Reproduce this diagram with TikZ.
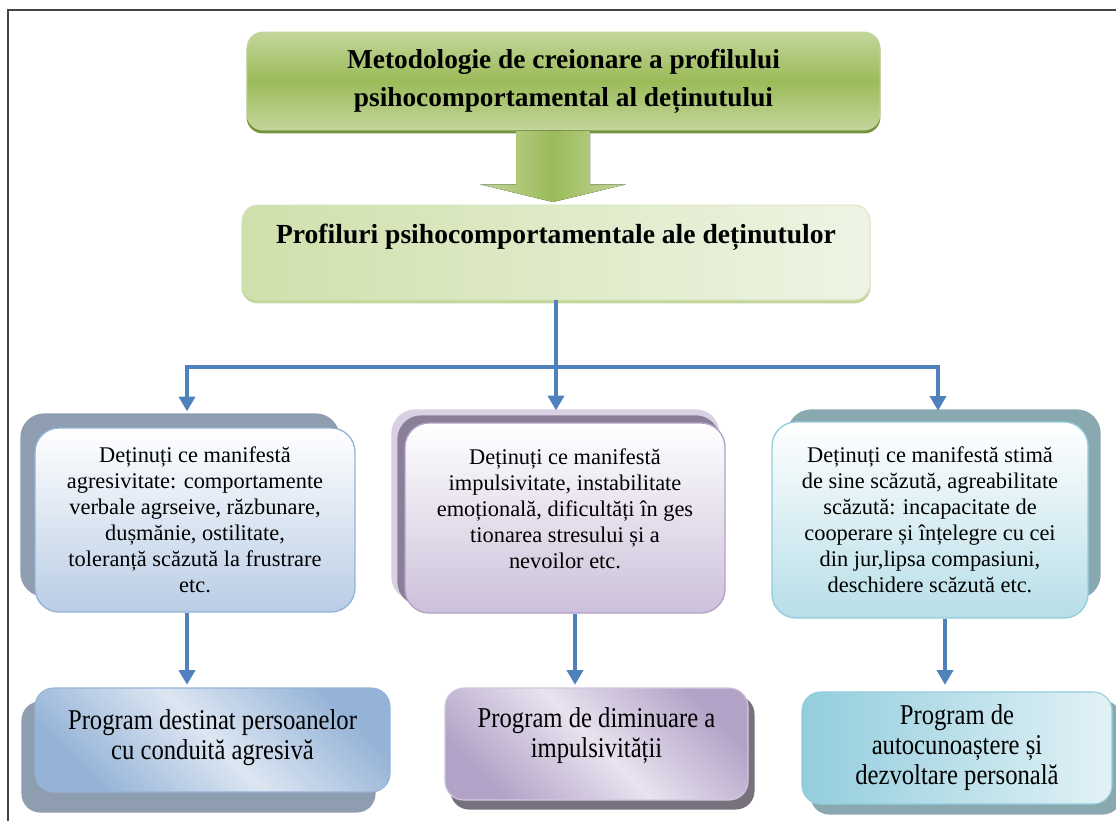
\documentclass[tikz,border=0pt]{standalone}
\usepackage{fontspec}
\setmainfont{Liberation Serif}
\newfontfamily\condfont{Liberation Serif}[FakeStretch=0.86]
\usetikzlibrary{arrows.meta,calc,backgrounds}
\definecolor{gLight}{HTML}{C3D69B}
\definecolor{gDark}{HTML}{9BBB59}
\definecolor{gShadow}{HTML}{77933C}
\definecolor{gPale}{HTML}{EEF4E4}
\definecolor{gMid}{HTML}{CFE0AB}
\definecolor{connBlue}{HTML}{4F81BD}
\definecolor{bBot}{HTML}{B9CDE5}
\definecolor{bBorder}{HTML}{95B3D7}
\definecolor{bShadow}{HTML}{8E9DB0}
\definecolor{bPale}{HTML}{DCE6F2}
\definecolor{pBot}{HTML}{CCC0DA}
\definecolor{pBorder}{HTML}{B3A2C7}
\definecolor{pShadowA}{HTML}{D9D0E3}
\definecolor{pShadowB}{HTML}{8A7F99}
\definecolor{pPale}{HTML}{E8E3EF}
\definecolor{pShadow3}{HTML}{76717C}
\definecolor{tBot}{HTML}{B7DEE8}
\definecolor{tBorder}{HTML}{93CDDD}
\definecolor{tShadow}{HTML}{8AA8B0}
\definecolor{tPale}{HTML}{E2F2F6}
\definecolor{frameGray}{HTML}{444444}
\begin{document}
\begin{tikzpicture}[x=0.75pt,y=-0.75pt,
  greenbox/.style={rounded corners=12pt, draw=gLight, line width=0.6pt, align=center,
     font=\fontsize{20.5}{28.5}\selectfont\bfseries},
  rowtwo/.style={rounded corners=18pt, line width=1pt, align=center,
     font=\fontsize{16.8}{19.5}\selectfont, inner sep=0pt},
  rowthree/.style={rounded corners=14pt, line width=0.8pt, align=center,
     font=\fontsize{21.5}{22.5}\condfont, inner sep=0pt},
  conn/.style={draw=connBlue, line width=3pt},
  arr/.style={conn, -{Triangle[width=12pt,length=11pt]}}
]
\useasboundingbox (0,0) rectangle (1116,821);
% frame
\draw[frameGray, line width=1.6pt] (8,821) -- (8,10) -- (1116,10);

% top box
\node[greenbox, top color=gLight, bottom color=gLight, middle color=gDark,
  minimum width=633*0.75pt, minimum height=98*0.75pt] (top) at (563.5,81)
  {Metodologie de creionare a profilului\\psihocomportamental al deținutului};
% second box
\node[greenbox, left color=gMid, right color=gPale, draw=gLight!70,
  minimum width=628*0.75pt, minimum height=95*0.75pt,
  font=\fontsize{20.7}{23}\selectfont\bfseries, text height=14pt, text depth=28pt] (prof) at (556,252.5)
  {Profiluri psihocomportamentale ale deținutulor};

% row 2
\node[rowtwo, top color=white, bottom color=bBot, draw=bBorder,
  minimum width=320*0.75pt, minimum height=184*0.75pt] (a1) at (195,520)
  {Deținuți ce manifestă\\agresivitate: comportamente\\verbale agrseive, răzbunare,\\dușmănie, ostilitate,\\toleranță scăzută la frustrare\\etc.};
\node[rowtwo, top color=white, bottom color=pBot, draw=pBorder,
  minimum width=320*0.75pt, minimum height=190*0.75pt] (a2) at (565,518)
  {Deținuți ce manifestă\\impulsivitate, instabilitate\\emoțională, dificultăți în ges\\tionarea stresului și a\\nevoilor etc.\\[-6pt]};
\node[rowtwo, top color=white, bottom color=tBot, draw=tBorder,
  minimum width=316*0.75pt, minimum height=196*0.75pt] (a3) at (930,520)
  {Deținuți ce manifestă stimă\\de sine scăzută, agreabilitate\\scăzută: incapacitate de\\cooperare și înțelegre cu cei\\din jur,lipsa compasiuni,\\deschidere scăzută etc.};

% row 3
\node[rowthree, top color=bBorder, bottom color=bBorder, middle color=bPale, shading angle=-45,
  draw=bBorder, minimum width=355*0.75pt, minimum height=104*0.75pt] (p1) at (212.5,740)
  {Program destinat persoanelor\\cu conduită agresivă\\[-14pt]};
\node[rowthree, top color=pBorder, bottom color=pBorder, middle color=pPale, shading angle=-45,
  draw=pBorder!60, minimum width=303*0.75pt, minimum height=112*0.75pt] (p2) at (596.5,744)
  {Program de diminuare a\\impulsivității\\[-6pt]};
\node[rowthree, left color=tBorder, right color=tPale, draw=tBorder,
  minimum width=310*0.75pt, minimum height=112*0.75pt] (p3) at (957,748)
  {Program de\\autocunoaștere și\\dezvoltare personală};

% shadows
\begin{scope}[on background layer]
  \fill[gShadow, rounded corners=12pt] ($(top.north west)+(0,3)$) rectangle ($(top.south east)+(0,3)$);
  \fill[gDark!60, rounded corners=12pt] ($(prof.north west)+(0,3)$) rectangle ($(prof.south east)+(0,3)$);
  \fill[bShadow, rounded corners=18pt] ($(a1.north west)+(-14,-14)$) rectangle ($(a1.south east)+(-16,-16)$);
  \fill[pShadowA, rounded corners=18pt] ($(a2.north west)+(-13,-13)$) rectangle ($(a2.south east)+(-6,-13)$);
  \fill[pShadowB, rounded corners=18pt] ($(a2.north west)+(-7,-7)$) rectangle ($(a2.south east)+(-6,-8)$);
  \fill[tShadow, rounded corners=18pt] ($(a3.north west)+(16,-12)$) rectangle ($(a3.south east)+(12,-20)$);
  \fill[bShadow, rounded corners=14pt] ($(p1.north west)+(-13,14)$) rectangle ($(p1.south east)+(-15,20)$);
  \fill[pShadow3, rounded corners=14pt] ($(p2.north west)+(6,8)$) rectangle ($(p2.south east)+(6,9)$);
  \fill[tShadow, rounded corners=14pt] ($(p3.north west)+(9,9)$) rectangle ($(p3.south east)+(9,10)$);
\end{scope}

% green block arrow
\coordinate (gtip) at (553,202);
\fill[left color=gLight, right color=gLight, middle color=gDark]
  ($(top.south -| gtip)+(-37,0)$) -- ($(top.south -| gtip)+(37,0)$) --
  ($(top.south -| gtip)+(37,54)$) -- ($(top.south -| gtip)+(73,54)$) --
  (gtip) -- ($(top.south -| gtip)+(-73,54)$) -- ($(top.south -| gtip)+(-37,54)$) -- cycle;

% blue connectors
\coordinate (bus) at (556,367);
\coordinate (c1) at (187,367);
\coordinate (c3) at (938,367);
\draw[conn] (prof.south) -- (prof.south |- bus);
\draw[conn, line cap=rect] (c1) -- (c3);
\draw[arr, shorten >=12pt] (c1) -- (c1 |- a1.north);
\draw[arr, shorten >=9pt] (prof.south |- bus) -- (prof.south |- a2.north);
\draw[arr, shorten >=8pt] (c3) -- (c3 |- a3.north);

\coordinate (d1) at (187,0);
\coordinate (d2) at (575,0);
\coordinate (d3) at (945,0);
\draw[arr, shorten >=2pt] (a1.south -| d1) -- (p1.north -| d1);
\draw[arr, shorten >=2pt] (a2.south -| d2) -- (p2.north -| d2);
\draw[arr, shorten >=5pt] (a3.south -| d3) -- (p3.north -| d3);
\end{tikzpicture}
\end{document}
